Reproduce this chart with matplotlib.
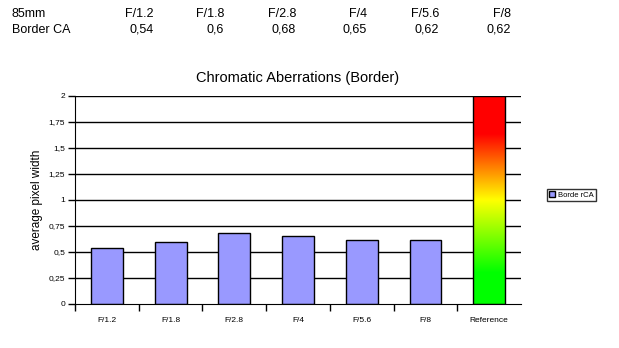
import numpy as np
import matplotlib.pyplot as plt
from matplotlib.colors import LinearSegmentedColormap

plt.rcParams['font.family'] = ['Liberation Sans', 'DejaVu Sans']

# data
stops = ["F/1.2", "F/1.8", "F/2.8", "F/4", "F/5.6", "F/8"]
border_ca = [0.54, 0.6, 0.68, 0.65, 0.62, 0.62]
ref_label = "Reference"
ref_value = 2.0
ytick_vals = [0, 0.25, 0.5, 0.75, 1, 1.25, 1.5, 1.75, 2]
ytick_txt = ["0", "0,25", "0,5", "0,75", "1", "1,25", "1,5", "1,75", "2"]

fig = plt.figure(figsize=(6.19, 3.48), dpi=100)
W, H = 619.0, 348.0
ax = fig.add_axes([75/W, 1-304/H, (521-75)/W, (304-96)/H])

x = np.arange(len(stops))
ax.set_axisbelow(True)
for v in ytick_vals[1:]:
    ax.axhline(v, color='black', lw=1, zorder=0)
ax.bar(x, border_ca, width=0.5, color='#9999ff', edgecolor='black', lw=1,
       label="Borde rCA", zorder=2)

# gradient bar for reference
cmap = LinearSegmentedColormap.from_list('ref', [(0, '#00ff00'), (0.15, '#00ff00'),
                                                  (0.5, '#ffff00'), (0.82, '#ff0000'),
                                                  (1, '#ff0000')])
xr = len(stops)
grad = np.linspace(0, 1, 256).reshape(-1, 1)
ax.imshow(grad, cmap=cmap, origin='lower', aspect='auto',
          extent=[xr-0.25, xr+0.25, 0, ref_value], zorder=2)
ax.add_patch(plt.Rectangle((xr-0.25, 0), 0.5, ref_value, fill=False,
                           edgecolor='black', lw=1, zorder=3))

ax.set_xlim(-0.5, len(stops)+0.5)
ax.set_ylim(0, 2)
ax.set_yticks(ytick_vals)
ax.set_yticklabels(ytick_txt, fontsize=6)
ax.set_xticks(np.arange(-0.5, len(stops)))
ax.set_xticklabels([])
ax.set_xticks(np.arange(len(stops)+1), minor=True)
ax.set_xticklabels(stops + [ref_label], minor=True, fontsize=6)
ax.tick_params(axis='x', which='minor', length=0, pad=9)
ax.tick_params(axis='x', which='major', length=5, direction='out', width=1)
ax.tick_params(axis='y', length=5, direction='out', width=1, pad=2)
for s in ['top', 'right']:
    ax.spines[s].set_visible(False)
ax.set_ylabel("average pixel width", fontsize=8.5)

ax.set_title("Chromatic Aberrations (Border)", fontsize=10.5, pad=10)

leg = ax.legend(loc='center left', bbox_to_anchor=(543/W, 1-195/H),
                bbox_transform=fig.transFigure, fontsize=5.5, frameon=True,
                fancybox=False, edgecolor='black', handlelength=0.8,
                handleheight=0.8, borderpad=0.3, handletextpad=0.4)
leg.get_frame().set_linewidth(1)

# header table
fig.text(12/W, 1-14/H, "85mm", fontsize=9, va='center')
fig.text(12/W, 1-30/H, "Border CA", fontsize=9, va='center')
right_edges = [154, 224, 296, 367, 439, 511]
for r, s, v in zip(right_edges, stops, border_ca):
    fig.text(r/W, 1-14/H, s, fontsize=9, va='center', ha='right')
    fig.text(r/W, 1-30/H, str(v).replace('.', ','), fontsize=9, va='center', ha='right')

fig.savefig('out.png', dpi=100)
